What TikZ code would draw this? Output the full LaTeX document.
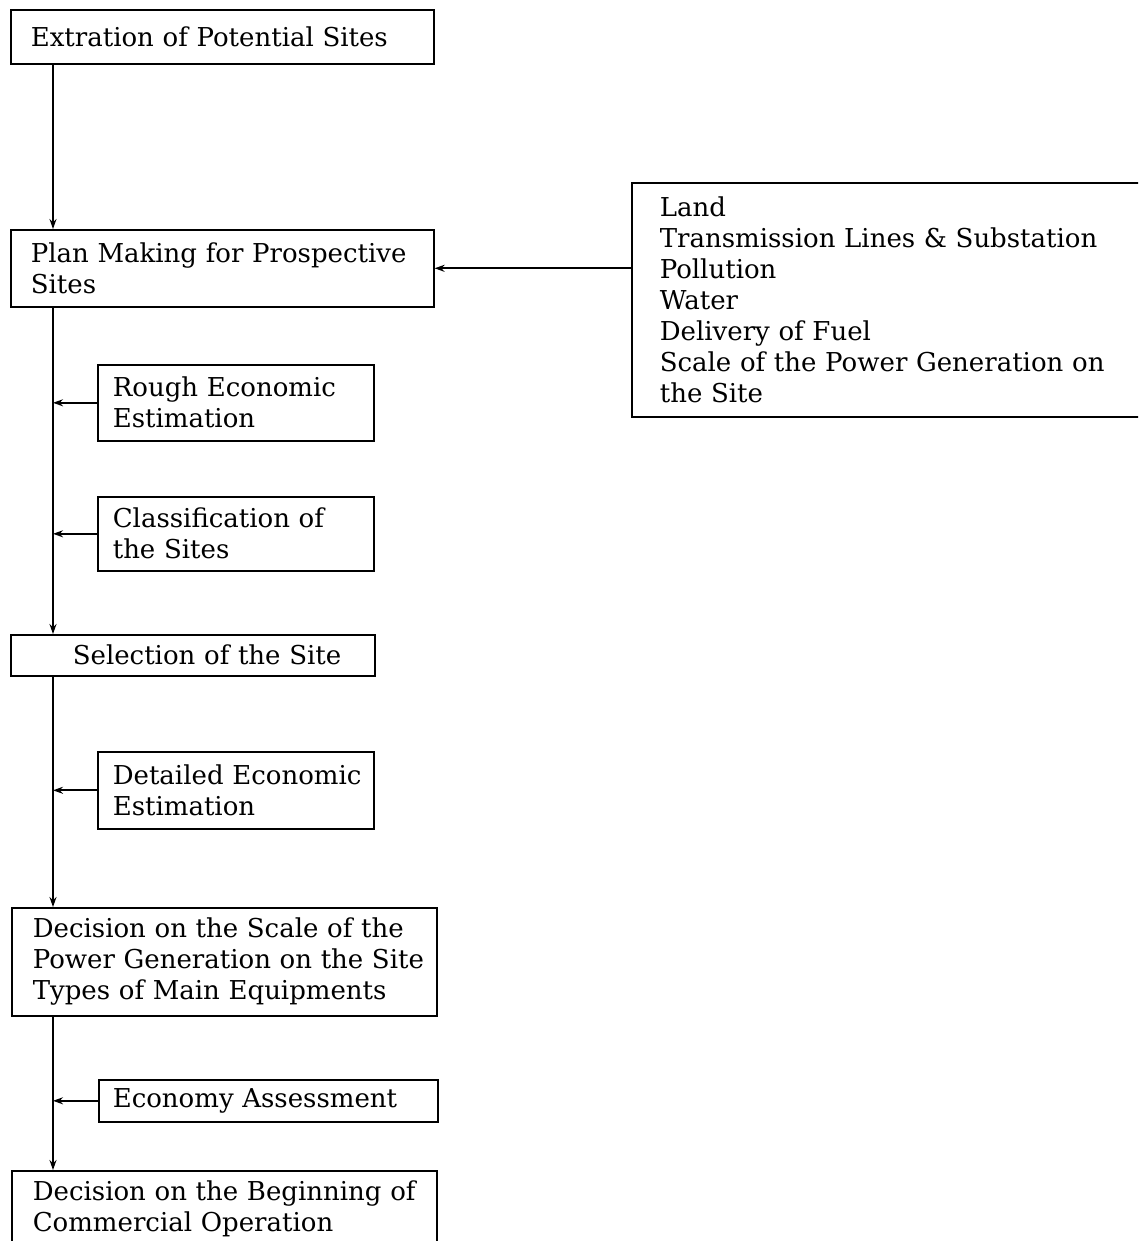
\documentclass[tikz,border=0pt]{standalone}
\usepackage{fontspec}
\setmainfont{DejaVu Serif}
\usetikzlibrary{arrows.meta}
\begin{document}
\begin{tikzpicture}[x=1pt,y=-1pt,
  box/.style={draw, line width=1.6pt, anchor=north west, align=left,
    inner ysep=0pt, font=\fontsize{26}{31}\selectfont},
  conn/.style={line width=1.8pt, -{Stealth[length=10pt,width=7pt]}},
]
\useasboundingbox (0,0) rectangle (1138,1241);
\clip (0,0) rectangle (1138,1241);
\coordinate (tx) at (53,0);
% main column
\node[box, inner xsep=20pt, minimum width=423, minimum height=54, text width=383] (b1) at (10,9) {\mbox{Extration of Potential Sites}};
\node[box, inner xsep=20pt, minimum width=423, minimum height=77, text width=383] (b2) at (10,229) {\mbox{Plan Making for Prospective}\\Sites};
\node[box, inner xsep=15pt, minimum width=276, minimum height=76, text width=246] (rough) at (97,364) {\mbox{Rough Economic}\\Estimation};
\node[box, inner xsep=15pt, minimum width=276, minimum height=74, text width=246] (cls) at (97,496) {\mbox{Classification of}\\the Sites};
\node[box, inner xsep=62pt, minimum width=364, minimum height=41, text width=240] (sel) at (10,634) {\mbox{Selection of the Site}};
\node[box, inner xsep=15pt, minimum width=276, minimum height=77, text width=246] (det) at (97,751) {\mbox{Detailed Economic}\\Estimation};
\node[box, inner xsep=21pt, minimum width=425, minimum height=108, text width=383] (dec) at (11,907) {\mbox{Decision on the Scale of the}\\\mbox{Power Generation on the Site}\\\mbox{Types of Main Equipments}};
\node[box, inner xsep=14pt, minimum width=339, minimum height=42, text width=311] (eco) at (98,1079) {\mbox{Economy Assessment}};
\node[box, inner xsep=21pt, minimum width=425, minimum height=76, text width=383] (beg) at (11,1170) {\mbox{Decision on the Beginning of}\\\mbox{Commercial Operation}};
% factors box (runs off the right edge)
\node[box, inner xsep=28pt, minimum width=560, minimum height=234, text width=504] (fac) at (631,182) {Land\\\mbox{Transmission Lines \& Substation}\\Pollution\\Water\\Delivery of Fuel\\\mbox{Scale of the Power Generation on}\\the Site};
% connectors
\draw[conn] (b1.south -| tx) -- (b2.north -| tx);
\draw[conn] (b2.south -| tx) -- (sel.north -| tx);
\draw[conn] (sel.south -| tx) -- (dec.north -| tx);
\draw[conn] (dec.south -| tx) -- (beg.north -| tx);
\draw[conn] (rough.west) -- (rough.west -| tx);
\draw[conn] (cls.west) -- (cls.west -| tx);
\draw[conn] (det.west) -- (det.west -| tx);
\draw[conn] (eco.west) -- (eco.west -| tx);
\draw[conn] (b2.east -| fac.west) -- (b2.east);
\end{tikzpicture}
\end{document}
